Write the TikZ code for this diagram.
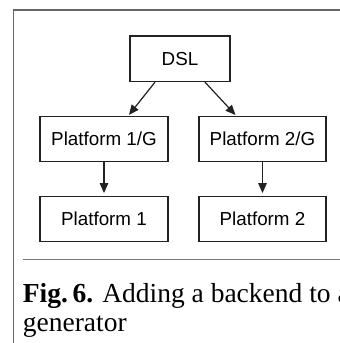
\documentclass[tikz,border=0pt]{standalone}
\usepackage{fontspec}
\setmainfont{Liberation Serif}
\newfontfamily\helv{Liberation Sans}
\usetikzlibrary{arrows.meta}
\definecolor{framegray}{HTML}{666666}
\definecolor{rulegray}{HTML}{777777}
\definecolor{boxline}{HTML}{222222}
\tikzset{
  box/.style={draw=boxline, line width=1.2pt, rectangle, inner sep=0pt,
    font=\helv\fontsize{18.8}{22}\selectfont, text=black},
  arr/.style={draw=boxline, line width=1.2pt, -{Triangle[length=10pt,width=8.5pt]}},
  frame/.style={draw=framegray, line width=1.6pt},
  captext/.style={anchor=base west, inner sep=0pt, font=\fontsize{27.5}{33}\selectfont},
}
\begin{document}
\begin{tikzpicture}[x=1pt,y=-1pt]
\useasboundingbox (0,0) rectangle (340,343);
\clip (0,0) rectangle (340,343);
\fill[white] (0,0) rectangle (340,343);
% frame
\coordinate (fbl) at (13.5,345);
\coordinate (ftl) at (13.5,10);
\coordinate (ftr) at (345,10);
\draw[frame] (fbl) -- (ftl) -- (ftr);
% nodes
\node[box, minimum width=100pt, minimum height=45.5pt] (dsl) at (180,58.8) {DSL};
\node[box, minimum width=128pt, minimum height=45pt] (p1g) at (104,139.2) {Platform 1/G};
\node[box, minimum width=127pt, minimum height=45pt] (p2g) at (262.5,139.2) {Platform 2/G};
\node[box, minimum width=128pt, minimum height=45pt] (p1) at (104,219.2) {Platform 1};
\node[box, minimum width=127pt, minimum height=45pt] (p2) at (262.5,219.2) {Platform 2};
% connectors
\draw[arr, shorten >=1.5pt] ([xshift=-25pt]dsl.south) -- ([xshift=24pt]p1g.north);
\draw[arr, shorten >=1.5pt] ([xshift=25pt]dsl.south) -- ([xshift=-26pt]p2g.north);
\draw[arr, shorten >=3pt] (p1g) -- (p1);
\draw[arr, shorten >=3pt] (p2g) -- (p2);
% rule and caption
\coordinate (rl) at (22.7,259.3);
\coordinate (rr) at (345,259.3);
\draw[draw=rulegray, line width=1.4pt] (rl) -- (rr);
\node[captext] (cap1) at (22.7,302.5) {\textbf{Fig.\,6.} Adding a backend to a};
\node[captext] (cap2) at (22.7,331) {generator};
\end{tikzpicture}
\end{document}
